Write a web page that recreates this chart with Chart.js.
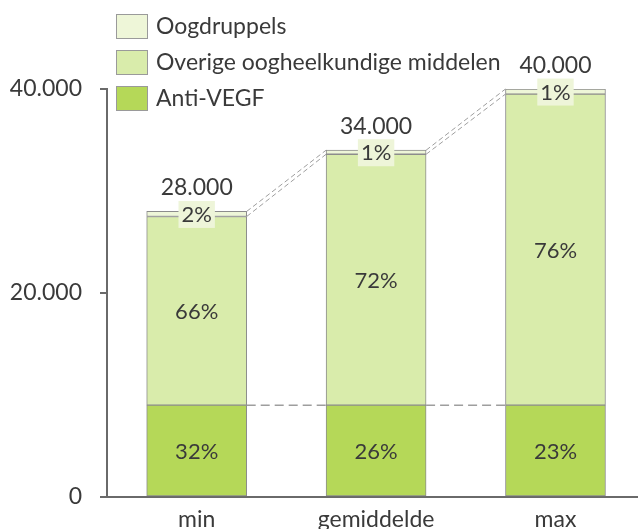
<!DOCTYPE html>
<html><head><meta charset="utf-8">
<script src="https://cdn.jsdelivr.net/npm/chart.js@4/dist/chart.umd.min.js"></script>
<style>html,body{margin:0;padding:0;background:#fff}#wrap{width:638px;height:529px}</style>
</head><body><div id="wrap"><canvas id="c" width="638" height="529"></canvas></div>
<script>
const categories = ['min', 'gemiddelde', 'max'];
const antiVegf = [9000, 9000, 9000];
const overige = [18500, 24600, 30500];
const oogdruppels = [500, 400, 500];
const yTicks = [0, 20000, 40000];
const seriesNames = ['Anti-VEGF', 'Overige oogheelkundige middelen', 'Oogdruppels'];
const seriesColors = ['#b5d858', '#d9ecab', '#eef6d8'];

const FONT = 'Lato';
const TXT = '#3a3a3a';
const AXIS = '#6a6a6a';
const fmt = v => String(Math.round(v)).replace(/\B(?=(\d{3})+(?!\d))/g, '.');

function mkData(arr) { return arr.map((v, i) => ({ x: i, y: v })); }

const overlay = {
  id: 'overlay',
  afterDatasetsDraw(chart) {
    const ctx = chart.ctx;
    const metas = [0, 1, 2].map(i => chart.getDatasetMeta(i));
    const n = categories.length;
    const el = (m, i) => m.data[i].getProps(['x', 'y', 'base', 'width'], true);
    ctx.save();
    ctx.strokeStyle = '#9e9e9e';
    for (let i = 0; i < n - 1; i++) {
      ctx.lineWidth = 1.5;
      ctx.setLineDash([9, 5]);
      const a = el(metas[0], i), b = el(metas[0], i + 1);
      ctx.beginPath(); ctx.moveTo(a.x + a.width / 2, a.y); ctx.lineTo(b.x - b.width / 2, b.y); ctx.stroke();
      ctx.lineWidth = 1;
      ctx.setLineDash([5, 3]);
      for (const m of [metas[1], metas[2]]) {
        const p = el(m, i), q = el(m, i + 1);
        ctx.beginPath(); ctx.moveTo(p.x + p.width / 2, p.y); ctx.lineTo(q.x - q.width / 2, q.y); ctx.stroke();
      }
    }
    ctx.setLineDash([]);
    ctx.textAlign = 'center';
    const series = [antiVegf, overige, oogdruppels];
    for (let i = 0; i < n; i++) {
      const total = antiVegf[i] + overige[i] + oogdruppels[i];
      ctx.font = '22px ' + FONT;
      ctx.textBaseline = 'middle';
      for (let d = 0; d < 3; d++) {
        const e = el(metas[d], i);
        const cy = (e.y + e.base) / 2;
        const txt = Math.round(series[d][i] / total * 100) + '%';
        if (d === 2) {
          const w = ctx.measureText(txt).width + 6;
          ctx.fillStyle = '#eef5d9';
          ctx.fillRect(e.x - w / 2, cy - 13, w, 27);
        }
        ctx.fillStyle = TXT;
        ctx.fillText(txt, e.x, cy + 1);
      }
      const top = el(metas[2], i);
      ctx.font = '23px ' + FONT;
      ctx.textBaseline = 'alphabetic';
      ctx.fillText(fmt(total), top.x, top.y - 16);
    }
    ctx.restore();
  },
  afterDraw(chart) {
    const ctx = chart.ctx;
    ctx.save();
    ctx.font = '23px ' + FONT;
    ctx.textAlign = 'left';
    ctx.textBaseline = 'middle';
    for (let k = 0; k < 3; k++) {
      const d = 2 - k;
      const y = 14 + k * 36;
      ctx.fillStyle = seriesColors[d];
      ctx.fillRect(116, y, 32, 25);
      ctx.strokeStyle = '#9a9a9a'; ctx.lineWidth = 1;
      ctx.strokeRect(116.5, y + 0.5, 31, 24);
      ctx.fillStyle = TXT;
      ctx.fillText(seriesNames[d], 156, y + 13);
    }
    ctx.restore();
  }
};

new Chart(document.getElementById('c'), {
  type: 'bar',
  data: {
    datasets: [0, 1, 2].map(d => ({
      label: seriesNames[d],
      data: mkData([antiVegf, overige, oogdruppels][d]),
      backgroundColor: seriesColors[d],
      borderColor: '#8c8c8c',
      borderWidth: 1,
      borderSkipped: false,
      barThickness: 100
    }))
  },
  options: {
    responsive: false,
    animation: false,
    layout: { padding: { top: 89, left: 0, right: 0, bottom: 0 } },
    plugins: { legend: { display: false }, tooltip: { enabled: false } },
    scales: {
      x: {
        type: 'linear',
        stacked: true,
        offset: false,
        min: -0.5,
        max: 2.46,
        afterBuildTicks: s => { s.ticks = categories.map((c, i) => ({ value: i })); },
        afterFit: s => { s.height = 32; },
        ticks: { callback: v => categories[v], color: TXT, font: { family: FONT, size: 23 }, padding: 9, maxRotation: 0, autoSkip: false },
        grid: { display: false, drawTicks: false, offset: false },
        border: { color: AXIS, width: 2 }
      },
      y: {
        stacked: true,
        min: 0,
        max: 40000,
        afterBuildTicks: s => { s.ticks = yTicks.map(v => ({ value: v })); },
        afterFit: s => { s.width = 107; },
        ticks: { callback: v => fmt(v), color: TXT, font: { family: FONT, size: 23 }, padding: 18 },
        grid: { drawOnChartArea: false, tickLength: 7, color: AXIS, lineWidth: 2 },
        border: { color: AXIS, width: 2 }
      }
    }
  },
  plugins: [overlay]
});
</script></body></html>
